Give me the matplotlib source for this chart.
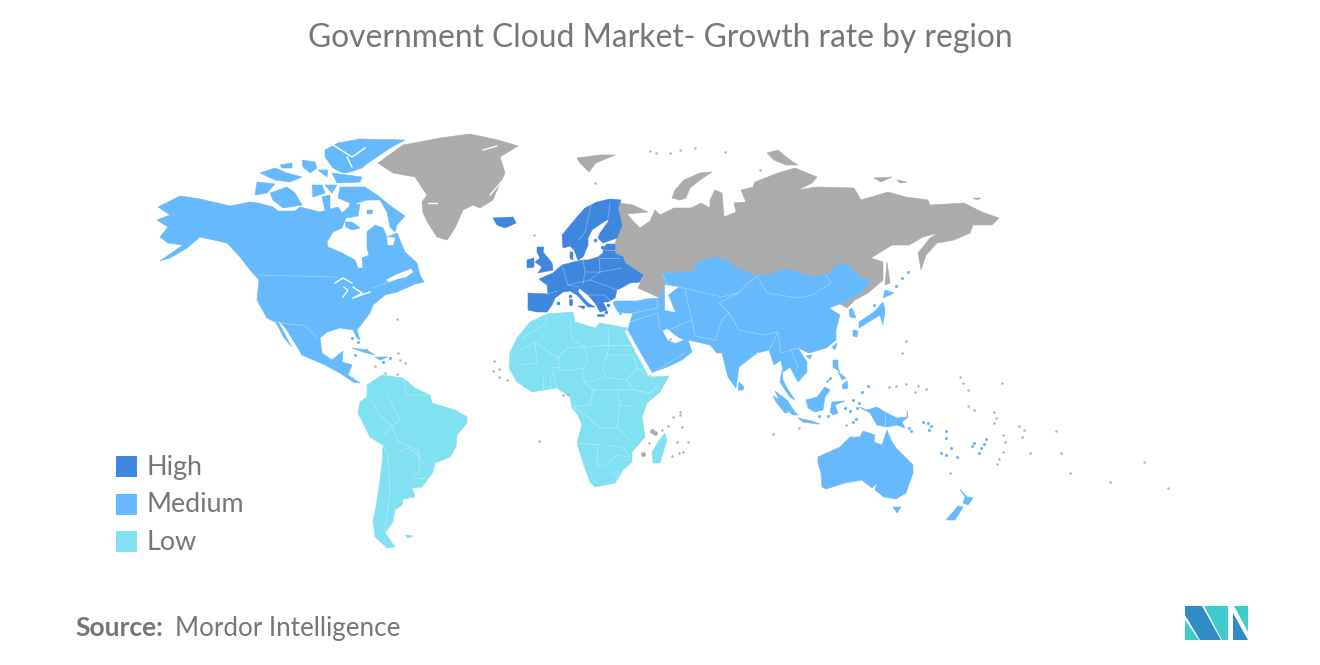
import matplotlib
matplotlib.use('Agg')
import matplotlib.pyplot as plt
from matplotlib.patches import Polygon, Rectangle, Circle

high_col = '#3F86DE'
med_col = '#66B9FC'
low_col = '#81E0F2'
grey_col = '#ABABAB'
text_col = '#767676'

title = 'Government Cloud Market- Growth rate by region'
legend_labels = ['High', 'Medium', 'Low']
source_label = 'Source:'
source_name = 'Mordor Intelligence'

# outlines, in picture pixels
north_america = [(158,207),(180,196),(200,199),(230,206),(250,202),(258,203),(273,207),(278,211),(295,211),(300,207),(320,212),(338,207),(342,213),(350,206),(360,204),(358,216),(346,218),(342,228),(333,232),(327,242),(328,247),(340,252),(355,260),(358,268),(363,268),(362,258),(369,255),(367,248),(367,232),(375,225),(383,228),(387,237),(397,233),(405,252),(417,263),(420,275),(424,282),(415,284),(397,292),(385,295),(373,305),(370,313),(357,330),(360,340),(357,338),(353,330),(340,328),(327,332),(320,338),(322,353),(332,360),(343,351),(342,362),(352,365),(348,375),(360,383),(353,382),(340,373),(325,365),(302,355),(287,337),(275,322),(267,318),(257,300),(259,280),(250,270),(240,257),(227,243),(200,237),(187,248),(170,258),(160,261),(183,245),(168,243),(160,237),(168,227),(157,220),(170,215)]
baja = [(276,322),(281,326),(292,347),(284,338)]
gulf_calif = [(279,322),(285,328),(301,354),(293,348),(283,330)]
banks = [(257,182),(275,184),(267,193),(255,195)]
victoria = [(270,193),(287,187),(295,193),(302,205),(283,208),(273,200)]
arctic_a = [(312,185),(322,185),(325,193),(313,197)]
arctic_b = [(325,185),(337,185),(332,193)]
arctic_g = [(322,197),(330,195),(330,210),(325,210)]
baffin = [(340,187),(365,187),(377,195),(392,207),(405,216),(397,225),(395,232),(390,227),(387,212),(380,200),(367,200),(357,203),(350,213),(348,212),(350,203),(338,198)]
southampton = [(345,222),(352,222),(360,228),(352,230),(346,227)]
ellesmere = [(325,150),(338,143),(360,139),(405,140),(390,148),(380,155),(368,163),(362,168),(350,172),(343,173),(333,168),(325,157)]
devon = [(332,173),(362,177),(360,182),(337,183)]
arctic_c = [(260,173),(275,168),(287,173),(302,177),(290,182),(275,180)]
arctic_d = [(302,160),(315,162),(317,168),(310,173),(303,167)]
arctic_e = [(318,170),(328,170),(327,177)]
arctic_f = [(280,165),(292,163),(292,168),(282,168)]
cuba = [(352,348),(367,350),(375,355),(363,352)]
hispaniola = [(375,357),(388,357),(380,360)]
asia = [(662,273),(695,271),(696,263),(715,257),(729,261),(736,268),(757,276),(776,273),(781,270),(791,270),(812,277),(831,273),(836,265),(847,264),(861,278),(871,280),(861,293),(840,304),(829,308),(840,315),(836,330),(836,340),(826,348),(809,353),(798,348),(807,362),(807,372),(798,382),(790,367),(783,372),(781,360),(774,365),(769,350),(757,353),(739,367),(736,388),(728,377),(722,353),(717,353),(710,345),(688,340),(692,352),(682,360),(667,367),(651,373),(638,348),(628,330),(630,322),(633,313),(625,313),(618,312),(613,303),(615,301),(637,301),(647,299),(660,298),(665,285)]
south_korea = [(852,308),(856,318),(850,317),(849,310)]
hokkaido = [(885,290),(894,293),(883,298)]
honshu = [(883,302),(885,310),(883,325),(880,315),(859,328),(859,322),(874,312)]
kyushu = [(853,330),(858,331),(857,337),(853,336)]
taiwan = [(837,343),(835,350),(832,347)]
hainan = [(806,356),(812,355),(810,359)]
sri_lanka = [(739,382),(744,387),(743,390),(738,390)]
malay = [(782,370),(783,380),(787,388),(795,400),(790,397),(785,390),(780,382)]
sumatra = [(775,391),(787,400),(795,412),(798,415),(793,415),(783,407)]
mentawai = [(773,396),(780,400),(788,413),(785,413),(776,402)]
java = [(798,418),(812,421),(820,424),(817,424),(803,422)]
borneo = [(806,400),(817,397),(825,387),(830,390),(825,397),(823,410),(815,412),(808,408)]
sulawesi = [(832,402),(845,401),(835,405),(838,413),(833,415),(830,412)]
luzon = [(833,360),(838,360),(838,368),(840,372),(833,367)]
visayas = [(838,372),(846,378),(842,380)]
mindanao = [(842,385),(847,381),(848,388),(843,389)]
palawan = [(826,382),(831,378),(827,383)]
new_guinea = [(859,407),(867,410),(877,407),(885,412),(897,418),(907,417),(907,410),(908,417),(902,422),(905,428),(897,425),(887,427),(877,425),(870,413)]
australia = [(818,457),(840,447),(850,437),(860,437),(863,431),(875,435),(874,442),(882,445),(887,430),(891,440),(896,448),(913,465),(913,473),(906,493),(896,499),(884,497),(875,490),(877,483),(872,488),(862,480),(845,483),(826,489),(822,487),(821,473),(818,463)]
tasmania = [(893,507),(901,507),(897,513)]
nz_north = [(960,489),(967,497),(973,498),(968,505),(963,503),(965,497)]
nz_south = [(958,506),(963,507),(955,520),(946,520),(953,512)]

europe = [(553,273),(562,265),(570,263),(573,262),(583,260),(588,260),(598,257),(603,253),(603,248),(607,244),(615,244),(615,253),(623,257),(625,263),(643,275),(640,282),(630,283),(623,287),(617,290),(615,298),(608,302),(603,302),(607,310),(600,312),(595,303),(588,295),(579,288),(578,292),(588,303),(595,307),(588,307),(577,295),(570,291),(563,292),(555,298),(552,305),(547,312),(537,312),(528,310),(528,293),(548,294),(547,285),(539,279)]
scandinavia = [(562,235),(568,228),(577,217),(585,208),(597,202),(610,199),(621,200),(618,208),(622,225),(617,238),(603,243),(598,238),(600,233),(608,222),(609,219),(605,221),(592,230),(588,238),(588,245),(583,257),(578,260),(574,250),(570,246),(563,248)]
denmark = [(570,252),(573,252),(573,260),(570,258)]
britain = [(537,247),(544,247),(543,252),(552,263),(553,270),(538,273),(542,267),(535,262),(540,258),(537,252)]
ireland = [(527,260),(534,258),(534,267),(527,268)]
iceland = [(493,218),(513,217),(516,223),(505,228),(497,225)]
sardinia = [(569,299),(572,299),(572,305),(569,305)]
sicily = [(578,306),(585,306),(584,309)]
crete = [(597,314),(604,314),(604,316),(597,316)]

africa = [(530,322),(547,314),(573,312),(575,322),(595,328),(600,323),(627,328),(633,347),(652,377),(669,376),(660,392),(647,403),(642,417),(645,437),(632,452),(632,462),(623,470),(615,483),(595,487),(590,482),(583,463),(577,443),(582,425),(578,415),(572,408),(570,397),(557,388),(532,392),(517,382),(509,368),(510,352),(517,338)]
madagascar = [(665,433),(667,440),(660,463),(653,463),(652,452),(658,442)]
south_america = [(367,385),(382,375),(403,378),(415,388),(430,395),(432,403),(455,410),(467,417),(467,423),(457,435),(456,447),(450,457),(435,463),(433,472),(422,487),(412,488),(415,497),(403,499),(402,505),(395,510),(393,522),(385,533),(395,547),(387,548),(375,537),(373,520),(376,507),(380,480),(382,463),(383,445),(370,437),(358,413),(360,402),(367,397)]
falklands = [(405,535),(413,536),(408,538)]

greenland = [(378,163),(403,145),(440,138),(470,134),(498,140),(518,146),(500,157),(505,173),(497,190),(493,200),(480,208),(473,205),(463,210),(455,228),(447,240),(437,237),(428,223),(423,213),(422,202),(427,195),(415,177),(393,173)]
russia = [(620,203),(633,205),(648,212),(627,214),(634,222),(640,228),(650,221),(655,210),(660,215),(674,208),(691,208),(701,203),(710,208),(710,200),(715,190),(722,193),(724,217),(736,212),(734,203),(746,202),(741,190),(753,187),(755,182),(778,173),(795,168),(817,177),(812,183),(798,190),(817,187),(854,188),(861,200),(888,192),(906,197),(928,200),(930,205),(964,203),(982,212),(999,218),(992,225),(973,225),(970,233),(954,240),(937,243),(926,255),(921,270),(918,253),(930,238),(938,233),(923,237),(909,245),(892,245),(871,258),(883,262),(883,280),(868,293),(855,300),(847,308),(840,304),(861,293),(871,280),(861,278),(847,264),(836,265),(831,273),(812,277),(791,270),(781,270),(776,273),(757,276),(736,268),(729,261),(715,257),(696,263),(695,271),(662,273),(665,285),(660,298),(647,292),(638,288),(642,280),(643,275),(625,263),(623,257),(615,253),(615,244),(617,238),(622,225),(618,208)]
sakhalin = [(887,262),(890,283),(885,285)]
svalbard = [(577,158),(600,155),(615,155),(596,163),(589,172),(580,163)]
severnaya = [(767,153),(778,150),(790,160),(798,165),(786,165),(774,160)]
novaya = [(672,198),(675,190),(684,180),(700,173),(712,172),(700,180),(690,188),(686,198),(680,200)]
novosibirsk = [(874,178),(892,177),(881,182)]
novosibirsk_b = [(897,180),(907,182),(900,183)]
wrangel = [(973,198),(981,198),(977,200)]
kaliningrad = [(598,258),(604,258),(604,261),(598,261)]

high_shapes = [europe, scandinavia, denmark, britain, ireland, iceland, sardinia, sicily, crete]
med_shapes = [north_america, baja, banks, victoria, arctic_a, arctic_b, arctic_g, baffin, southampton, ellesmere, devon, arctic_c, arctic_d, arctic_e, arctic_f, cuba, hispaniola, asia, south_korea, hokkaido, honshu, kyushu, taiwan, hainan, sri_lanka, malay, sumatra, mentawai, java, borneo, sulawesi, luzon, visayas, mindanao, palawan, new_guinea, australia, tasmania, nz_north, nz_south]
low_shapes = [africa, madagascar, south_america, falklands]
grey_shapes = [greenland, russia, sakhalin, svalbard, severnaya, novaya, novosibirsk, novosibirsk_b, wrangel, kaliningrad]

# water cut out of the land
caspian = [(665,285),(678,287),(668,295),(675,312),(665,310),(665,300)]
persian_gulf = [(663,331),(667,329),(677,337),(683,340),(675,343),(668,340)]
red_sea = [(627,330),(632,340),(642,356),(652,373),(649,376),(638,356),(628,337),(625,331)]
ungava_bay = [(387,237),(395,238),(393,245),(388,245)]
st_lawrence = [(386,280),(398,274),(411,269),(413,272),(406,277),(397,279),(389,282)]
foxe_lake = [(367,210),(373,210),(372,214),(367,214)]
lakes = [caspian, persian_gulf, red_sea, ungava_bay, st_lawrence]
lake_lines = [[(335,283),(343,278),(352,283)], [(344,287),(348,290),(343,297)], [(353,287),(362,293),(355,297)], [(353,298),(370,292)],
              [(333,145),(352,157),(365,148)], [(347,157),(352,167)], [(483,150),(497,146)], [(428,203),(437,203)], [(490,195),(503,180)]]

# country borders
borders = [
    [(260,275),(337,277)], [(373,288),(387,283),(393,280)], [(275,322),(297,325),(303,325),(310,330),(317,338)],
    [(546,315),(547,323),(530,333),(522,338)], [(520,350),(535,342),(558,358)], [(535,342),(537,363),(520,365)],
    [(558,358),(560,367),(550,368)], [(570,317),(572,340),(585,347),(567,348),(558,358)],
    [(608,327),(609,345),(585,347)], [(609,345),(633,345)],
    [(585,347),(588,362),(582,370),(585,383),(605,377),(602,367),(607,355),(609,345)],
    [(607,355),(633,355),(637,368),(627,380),(607,378)], [(637,368),(652,378)], [(627,380),(633,390),(650,393),(660,383)],
    [(557,370),(573,370),(583,368)], [(553,370),(557,390)], [(543,377),(543,390)], [(550,375),(550,390)],
    [(585,383),(593,390),(617,390),(633,390)], [(573,407),(588,417),(600,428),(617,428),(623,433),(630,440)], [(620,405),(633,407)],
    [(577,443),(602,445)], [(598,445),(597,466)], [(607,445),(623,447),(630,457)], [(597,463),(603,467),(617,455),(627,457)],
    [(593,390),(590,405),(573,407)], [(617,390),(620,405),(617,428)],
    [(373,402),(378,413),(392,426),(383,437)], [(392,426),(400,420),(387,395)], [(392,426),(397,440),(405,445),(418,450),(420,470),(412,478)],
    [(383,445),(388,455),(390,490),(385,530)], [(400,452),(408,448),(418,455),(425,465)], [(413,478),(425,478)], [(403,378),(407,395),(430,395)],
    [(662,273),(669,287),(684,288),(705,293),(722,297),(738,293),(746,285),(757,276)],
    [(757,276),(767,293),(798,298),(812,295),(831,283),(826,275)],
    [(738,293),(719,303),(729,313),(739,330),(764,335),(778,332)],
    [(692,320),(695,336),(715,340)], [(715,340),(722,320),(729,313)], [(685,290),(692,320)], [(633,313),(658,308),(657,299)],
    [(630,322),(658,313),(660,330)], [(653,373),(684,353)], [(669,330),(692,320)],
    [(769,350),(778,332),(781,353),(791,350),(800,348)], [(791,350),(798,367)],
    [(885,412),(885,426)],
    [(562,265),(568,285),(579,287)], [(583,260),(585,272),(600,272),(622,268)], [(599,257),(600,272)], [(548,294),(557,291)],
    [(568,285),(590,280),(604,285),(617,290)], [(585,272),(583,284)], [(590,280),(600,272)], [(588,295),(604,295),(610,300)], [(603,250),(615,250)], [(600,258),(620,258)],
    [(591,205),(585,232),(579,240)], [(610,203),(608,218)],
]
lesotho = (616,474,2.5)

grey_dots = [(773,434),(799,428),(950,473),(1070,473),(1110,482),(1144,462),(1168,488),(1061,453),(1030,453),(1056,431),(1002,383),(902,353),(906,341),
             (889,387),(896,386),(906,384),(918,386),(915,392),(926,389),(960,377),(963,383),(968,390),(968,406),(974,410),(994,412),(996,418),(994,423),
             (1019,426),(1024,430),(1022,437),(1003,435),(1005,442),(1003,452),(999,459),(997,464),
             (494,361),(499,369),(493,371),(499,377),(507,380),(539,441),(563,395),(568,394),(397,319),(398,353),(400,360),(405,363),(375,366),(385,373),(397,374),
             (673,417),(680,412),(680,415),(662,430),(668,426),(682,427),(677,442),(688,442),(683,452),(679,453),(672,456),(649,443),
             (534,235),(595,183),(846,425),(670,339),(656,153),(670,153),(650,151),(680,150),(695,148),(725,152),(760,170)]
grey_big_dots = [(643,454),(652,431),(655,433)]
med_dots = [(923,422),(928,423),(931,426),(929,430),(909,428),(911,431),(946,431),(946,438),(951,448),(957,457),(972,446),(974,443),(986,439),(984,444),(981,448),(979,453),
            (941,453),(946,455),(845,408),(850,411),(857,408),(853,400),(859,403),(856,419),(853,422),(819,416),(828,416),(868,386),(862,392),(620,313),
            (352,338),(358,342),(366,350),(383,362),(390,358),(355,355),(830,378),(874,305),(896,286),(902,278),(908,272)]
high_dots = [(570,296),(558,303),(603,307),(608,305),(606,312),(600,309),(578,257),(595,240),(602,247)]

logo_dark_a = [(1185,606),(1202,606),(1221,640),(1200,640),(1185,615)]
logo_teal_a = [(1185,620),(1199,640),(1185,640)]
logo_teal_b = [(1204,606),(1228,606),(1228,640),(1222,640)]
logo_teal_c = [(1234,606),(1248,606),(1248,632)]
logo_dark_b = [(1233,613),(1248,640),(1233,640)]

plt.rcParams['font.family'] = ['Lato', 'DejaVu Sans']
fig = plt.figure(figsize=(13.2, 6.65), dpi=100)
ax = fig.add_axes([0, 0, 1, 1])
ax.set_xlim(0, 1320)
ax.set_ylim(665, 0)
ax.axis('off')

for shapes, col in [(grey_shapes, grey_col), (low_shapes, low_col), (med_shapes, med_col), (high_shapes, high_col)]:
    for s in shapes:
        ax.add_patch(Polygon(s, closed=True, fc=col, ec=col, lw=0.4))

for line in borders:
    ax.plot([p[0] for p in line], [p[1] for p in line], color='white', alpha=0.35, lw=0.6)
ax.add_patch(Circle(lesotho[:2], lesotho[2], fc='none', ec='white', alpha=0.4, lw=0.6))

ax.add_patch(Polygon(gulf_calif, closed=True, fc='white', ec='white', lw=0.3))
for s in lakes:
    ax.add_patch(Polygon(s, closed=True, fc='white', ec='white', lw=0.3))
for line in lake_lines:
    ax.plot([p[0] for p in line], [p[1] for p in line], color='white', lw=1)
ax.add_patch(Polygon(foxe_lake, closed=True, fc=med_col, ec=med_col, lw=0.3))

for dots, col, size in [(grey_dots, grey_col, 3), (grey_big_dots, grey_col, 12), (med_dots, med_col, 5), (high_dots, high_col, 6)]:
    ax.scatter([p[0] for p in dots], [p[1] for p in dots], s=size, color=col, lw=0)

# legend
for y, col, lab in zip([456, 494, 531], [high_col, med_col, low_col], legend_labels):
    ax.add_patch(Rectangle((116, y), 21, 21, fc=col, ec='none'))
    ax.text(146.5, y + 11, lab, color=text_col, fontsize=19.4, va='center', ha='left')

ax.text(660, 38, title, color=text_col, fontsize=22.85, va='center', ha='center')
ax.text(75, 628.5, source_label, color=text_col, fontsize=19, fontweight='bold', va='center', ha='left')
ax.text(175, 628.5, source_name, color=text_col, fontsize=18.7, va='center', ha='left')

for s, col in [(logo_dark_a, '#2E8BC4'), (logo_teal_a, '#3FCBCB'), (logo_teal_b, '#3FCBCB'), (logo_teal_c, '#3FCBCB'), (logo_dark_b, '#2E8BC4')]:
    ax.add_patch(Polygon(s, closed=True, fc=col, ec='none'))

fig.savefig('out.png', dpi=100)
